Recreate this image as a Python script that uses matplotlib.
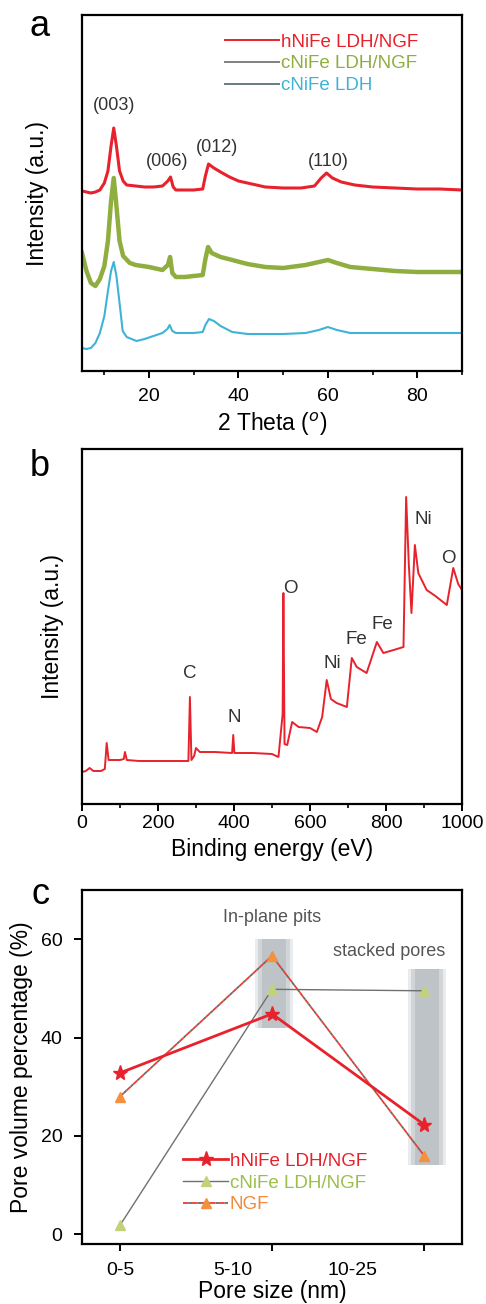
import matplotlib
matplotlib.use("Agg")
import matplotlib.pyplot as plt
import numpy as np

plt.rcParams['font.family'] = ['Liberation Sans', 'DejaVu Sans']

# --- XRD patterns (2 theta, intensity in arbitrary units) ---
tt_red = [5, 6, 7, 8, 9, 10, 10.8, 11.5, 12.1, 12.7, 13.4, 14.2, 15, 17, 19, 21, 23, 24.2, 24.8, 25.4, 26, 28,
          30, 32, 32.6, 33.3, 34.5, 36, 38, 40, 43, 46, 50, 54, 57, 58.5, 59.7, 61, 63, 66, 70, 75, 80, 85, 90]
I_red = [180, 179, 178, 179, 181, 188, 200, 225, 243, 225, 200, 190, 186, 185, 184, 184, 185, 190, 194, 184, 181, 181,
         181, 182, 195, 207, 203, 199, 194, 190, 187, 184, 183, 183, 185, 193, 198, 193, 189, 186, 184, 183, 182, 182, 181]

tt_green = [5, 6, 7, 8, 9, 10, 10.8, 11.5, 12.1, 12.7, 13.4, 14.2, 15.7, 17, 20, 23, 24.2, 24.7, 25.2, 26, 28, 30,
            32, 32.6, 33.2, 34, 36, 38.6, 42, 46, 50, 55, 58, 60, 62, 65, 70, 75, 80, 85, 90]
I_green = [118, 100, 88, 85, 92, 105, 130, 170, 193, 165, 130, 115, 108, 106, 104, 101, 106, 114, 98, 94, 94, 95,
           96, 112, 124, 118, 114, 111, 107, 104, 103, 106, 109, 111, 108, 104, 102, 100, 99, 99, 99]

tt_blue = [5, 6, 7, 8, 9, 10, 10.8, 11.5, 12.1, 12.7, 13.4, 14.1, 15, 17.2, 19, 21, 23, 24.1, 24.6, 25.2, 26, 28,
           30, 32, 32.6, 33.4, 34.5, 36, 38.6, 42, 46, 50, 55, 58, 60, 62, 65, 70, 75, 80, 85, 90]
I_blue = [23, 22, 23, 28, 38, 55, 80, 100, 109, 95, 68, 40, 34, 30, 32, 35, 38, 42, 46, 40, 38, 38,
          38, 39, 46, 52, 50, 45, 39, 37, 37, 37, 38, 41, 44, 41, 38, 38, 38, 38, 38, 38]

xrd_names = ["hNiFe LDH/NGF", "cNiFe LDH/NGF", "cNiFe LDH"]
hkl_labels = ["(003)", "(006)", "(012)", "(110)"]
hkl_pos = [(12.1, 265), (24.1, 209), (35.2, 223), (60.1, 209)]

# --- XPS survey (binding energy, intensity) ---
be = [0, 10, 20, 30, 50, 60, 65, 70, 100, 110, 113, 118, 150, 200, 250, 280, 284, 288, 295, 300, 310, 350, 395, 398,
      401, 450, 500, 517, 528, 530, 533, 540, 553, 570, 600, 618, 632, 644, 655, 670, 697, 710, 723, 749, 776, 793,
      820, 846, 853, 860, 867, 876, 885, 894, 907, 930, 960, 977, 990, 1000]
xps = [32, 33, 36, 33, 33, 35, 61, 44, 44, 45, 52, 44, 43, 43, 43, 43, 107, 44, 48, 56, 52, 52, 51, 69,
       51, 51, 50, 47, 90, 211, 60, 59, 82, 77, 76, 72, 87, 124, 105, 101, 97, 146, 137, 131, 162, 151,
       154, 157, 307, 240, 191, 259, 231, 224, 214, 208, 199, 236, 220, 214]
xps_peaks = ["C", "N", "O", "Ni", "Fe", "Fe", "Ni", "O"]
xps_peak_pos = [(284, 131), (400, 86), (548, 215), (660, 141), (722, 164), (790, 179), (898, 284), (963, 245)]

# --- pore size distribution ---
pore_ranges = ["0-5", "5-10", "10-25"]
pore_x = [1, 2, 3]
pv_h = [32.8, 44.8, 22.3]
pv_c = [1.8, 49.8, 49.5]
pv_ngf = [28.0, 56.6, 16.0]
pore_names = ["hNiFe LDH/NGF", "cNiFe LDH/NGF", "NGF"]
pit_band = (2.015, 42, 60)
stack_band = (3.02, 14, 54)

red = '#e8222c'
green = '#8fae3f'
blue = '#3fb3d6'

fig = plt.figure(figsize=(4.86, 13.04), dpi=100)
W, H = 486.0, 1304.0


def px_axes(left, top, right, bottom):
    return fig.add_axes([left / W, 1 - bottom / H, (right - left) / W, (bottom - top) / H])


def frame(ax, pad):
    for s in ax.spines.values():
        s.set_linewidth(1.6)
    ax.tick_params(which='major', direction='out', length=5, width=1.4, labelsize=14, pad=pad)
    ax.tick_params(which='minor', direction='out', length=3, width=1.2)


# a) XRD
ax1 = px_axes(82, 15, 462, 371)
ax1.plot(tt_red, I_red, color=red, lw=2.2, label=xrd_names[0])
ax1.plot(tt_green, I_green, color=green, lw=3.2, label=xrd_names[1])
ax1.plot(tt_blue, I_blue, color=blue, lw=1.5, label=xrd_names[2])
ax1.set_xlim(5, 90)
ax1.set_ylim(0, 356)
ax1.set_xticks([20, 40, 60, 80])
ax1.set_xticks([10, 30, 50, 70, 90], minor=True)
ax1.set_yticks([])
frame(ax1, 7)
for lab, (x, y) in zip(hkl_labels, hkl_pos):
    ax1.text(x, y, lab, ha='center', va='center', fontsize=13, color='#333333')
ax1.set_xlabel("2 Theta ($^o$)", fontsize=16.5)
ax1.set_ylabel("Intensity (a.u.)", fontsize=16.5)
ax1.xaxis.set_label_coords(0.5, -0.112)
ax1.yaxis.set_label_coords(-0.087, 0.5)
leg1 = ax1.legend(loc='upper left', bbox_to_anchor=(0.376, 0.948), frameon=False, fontsize=13.5,
                  handlelength=2.9, handletextpad=0.1, labelspacing=0.25, borderpad=0, borderaxespad=0)
for h, t, c_line, c_txt in zip(leg1.legend_handles, leg1.get_texts(),
                               [red, '#808080', '#6a7a80'], [red, green, blue]):
    h.set_color(c_line)
    h.set_linewidth(1.4)
    t.set_color(c_txt)

# b) XPS survey
ax2 = px_axes(82, 449, 462, 804)
ax2.plot(be, xps, color=red, lw=1.4)
ax2.set_xlim(0, 1000)
ax2.set_ylim(0, 355)
ax2.set_xticks([0, 200, 400, 600, 800, 1000])
ax2.set_xticks([100, 300, 500, 700, 900], minor=True)
ax2.set_yticks([])
frame(ax2, 3)
for lab, (x, y) in zip(xps_peaks, xps_peak_pos):
    ax2.text(x, y, lab, ha='center', va='center', fontsize=13.5, color='#333333')
ax2.set_xlabel("Binding energy (eV)", fontsize=16.5)
ax2.set_ylabel("Intensity (a.u.)", fontsize=16.5)
ax2.xaxis.set_label_coords(0.5, -0.097)
ax2.yaxis.set_label_coords(-0.047, 0.5)

# c) pore volume
ax3 = px_axes(82, 890, 462, 1244)
for xc, lo, hi in (pit_band, stack_band):
    for w, a in ((0.25, 0.2), (0.21, 0.28), (0.16, 0.3)):
        ax3.bar(xc, hi - lo, bottom=lo, width=w, color='#959ca2', alpha=a, lw=0, zorder=1)
ax3.plot(pore_x, pv_c, color='#707070', lw=1.0, marker='^', ms=7, mfc='#c3d27a', mec='#c3d27a',
         label=pore_names[1], zorder=3)
ax3.plot(pore_x, pv_ngf, color='#ec3d32', lw=1.3, ls=(0, (3, 2)), gapcolor='#6a6a6a',
         marker='^', ms=7, mfc='#f5903f', mec='#f5903f', label=pore_names[2], zorder=3)
ax3.plot(pore_x, pv_h, color=red, lw=2.0, marker='*', ms=11, mfc=red, mec=red,
         label=pore_names[0], zorder=4)
ax3.set_xlim(0.75, 3.25)
ax3.set_ylim(-2, 70)
ax3.set_yticks([0, 20, 40, 60])
ax3.set_xticks(pore_x)
ax3.set_xticklabels([])
ax3.set_xticks([1.001, 1.74, 2.53], minor=True)
ax3.set_xticklabels(pore_ranges, minor=True)
frame(ax3, 8)
ax3.tick_params(axis='y', which='major', length=6)
ax3.tick_params(axis='x', which='minor', length=0, labelsize=14, pad=13)
ax3.text(2.0, 64.4, "In-plane pits", ha='center', va='center', fontsize=13, color='#555555')
ax3.text(2.77, 57.5, "stacked pores", ha='center', va='center', fontsize=13, color='#555555')
ax3.set_xlabel("Pore size (nm)", fontsize=16.5)
ax3.set_ylabel("Pore volume percentage (%)", fontsize=16.5)
ax3.xaxis.set_label_coords(0.5, -0.102)
ax3.yaxis.set_label_coords(-0.129, 0.5)
hd, lb = ax3.get_legend_handles_labels()
order = [2, 0, 1]
leg3 = ax3.legend([hd[i] for i in order], [lb[i] for i in order], loc='upper left',
                  bbox_to_anchor=(0.266, 0.258), frameon=False, fontsize=13.5, handlelength=2.4,
                  handletextpad=0.1, labelspacing=0.25, borderpad=0, borderaxespad=0)
for t, c in zip(leg3.get_texts(), [red, '#9bbf4a', '#f28a3c']):
    t.set_color(c)

# panel letters
for letter, y in (("a", 27), ("b", 467), ("c", 895)):
    fig.text(40 / W, 1 - y / H, letter, ha='center', va='center', fontsize=26)

fig.savefig("out.png", dpi=100)
